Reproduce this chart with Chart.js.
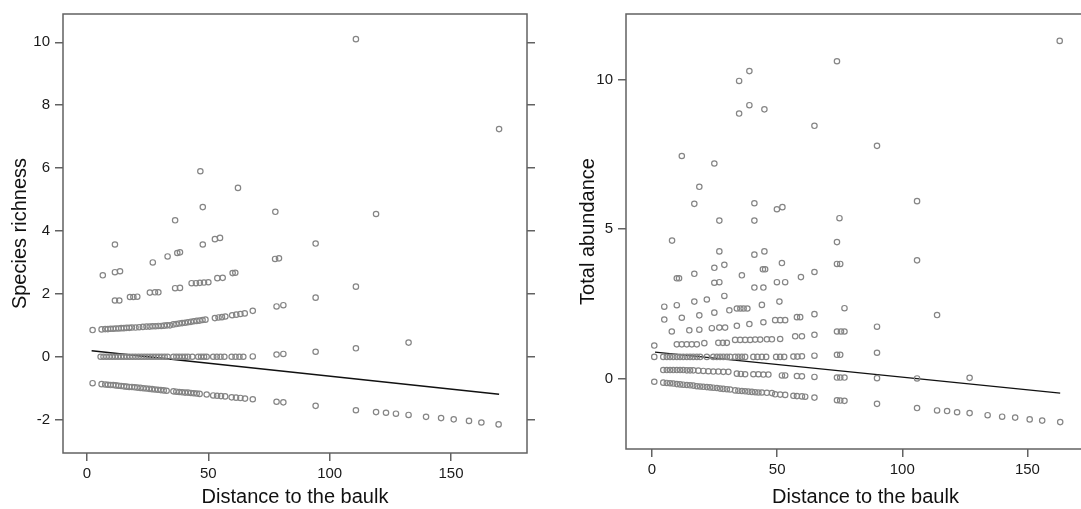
<!DOCTYPE html>
<html>
<head>
<meta charset="utf-8">
<script src="https://cdn.jsdelivr.net/npm/chart.js@4.4.1/dist/chart.umd.min.js"></script>
<style>
  html, body { margin: 0; padding: 0; background: #fff; }
  body { width: 1081px; height: 509px; overflow: hidden; position: relative; }
  canvas { position: absolute; top: 0; }
  #leftChart { left: 0; }
  #rightChart { left: 560px; }
</style>
</head>
<body>
<canvas id="leftChart" width="560" height="509"></canvas>
<canvas id="rightChart" width="560" height="509"></canvas>
<script>
// Tick labels
const distanceTicks = [0, 50, 100, 150];
const richnessTicks = [-2, 0, 2, 4, 6, 8, 10];
const abundanceTicks = [0, 5, 10];

// Species richness: [distance, value]
const richnessLow = [[2.3,-0.84],[6,-0.87],[7.5,-0.88],[8.6,-0.89],[9.7,-0.9],[10.8,-0.9],[11.9,-0.91],[13,-0.92],[14.1,-0.93],[15.2,-0.94],[16.3,-0.95],[17.4,-0.96],[18.5,-0.96],[19.6,-0.97],[20.7,-0.98],[22,-0.99],[23.2,-1],[24.4,-1.01],[25.6,-1.02],[26.8,-1.03],[28,-1.04],[29.2,-1.05],[30.4,-1.06],[31.6,-1.07],[32.8,-1.08],[35.6,-1.1],[36.8,-1.11],[38,-1.12],[39.2,-1.13],[40.4,-1.14],[41.6,-1.14],[42.8,-1.15],[44,-1.16],[45.2,-1.17],[46.4,-1.18],[49.3,-1.2],[52,-1.23],[53.6,-1.24],[55.2,-1.25],[56.9,-1.26],[59.6,-1.29],[61.4,-1.3],[63.2,-1.31],[65.1,-1.33],[68.3,-1.35],[78.1,-1.43],[80.9,-1.45],[94.2,-1.56],[110.8,-1.7],[119.1,-1.76],[123.2,-1.78],[127.3,-1.81],[132.5,-1.85],[139.7,-1.91],[145.9,-1.95],[151.1,-1.99],[157.4,-2.04],[162.5,-2.09],[169.6,-2.15]];
const richnessZero = [[5.6,0],[6.8,0],[8,0],[9.2,0],[10.4,0],[11.6,0],[12.8,0],[14,0],[15.2,0],[16.4,0],[17.6,0],[18.8,0],[20,0],[21.2,0],[22.4,0],[23.6,0],[24.8,0],[26,0],[27.2,0],[28.4,0],[29.6,0],[30.8,0],[32,0],[33.2,0],[35.6,0],[36.8,0],[38,0],[39.2,0],[40.4,0],[41.6,0],[43.4,0],[45.8,0],[47,0],[48.2,0],[49.3,0],[52,0],[53.5,0],[55,0],[56.6,0],[59.6,0],[61.2,0],[62.8,0],[64.4,0],[68.3,0.01],[78.1,0.07],[80.9,0.09],[94.2,0.16],[110.8,0.27],[132.5,0.45]];
const richnessOne = [[2.3,0.85],[6,0.87],[7.5,0.88],[8.6,0.88],[9.7,0.89],[10.8,0.89],[11.9,0.9],[13,0.9],[14.1,0.91],[15.2,0.91],[16.3,0.92],[17.4,0.92],[18.5,0.93],[20,0.93],[21.5,0.94],[23,0.95],[24.5,0.96],[25.8,0.96],[27,0.97],[28.2,0.97],[29.4,0.98],[30.6,0.98],[31.8,0.99],[33,1],[34.2,1],[35.6,1.03],[36.8,1.04],[38,1.06],[39.2,1.07],[40.4,1.08],[41.6,1.1],[42.8,1.11],[44,1.13],[45.2,1.14],[46.4,1.15],[47.6,1.17],[48.8,1.18],[52.7,1.23],[54.2,1.25],[55.6,1.26],[57,1.28],[59.8,1.32],[61.5,1.34],[63.2,1.36],[65,1.38],[68.3,1.46],[78.1,1.6],[80.9,1.64],[94.2,1.88],[110.8,2.23]];
const richnessTwo = [[11.5,1.79],[13.3,1.79],[17.7,1.9],[19.1,1.9],[20.7,1.91],[25.9,2.04],[28,2.05],[29.4,2.05],[36.3,2.18],[38.3,2.19],[43.1,2.34],[44.9,2.34],[46.5,2.35],[48.2,2.36],[50,2.37],[53.7,2.5],[55.9,2.51],[60,2.66],[61.1,2.67]];
const richnessHigh = [[6.5,2.59],[11.5,2.69],[13.6,2.72],[27.1,3],[33.2,3.19],[37.2,3.3],[38.3,3.32],[47.7,3.57],[52.7,3.74],[54.8,3.78],[77.5,3.11],[79.1,3.13],[94.2,3.6],[11.5,3.57],[36.3,4.34],[46.7,5.9],[47.7,4.76],[62.2,5.37],[77.6,4.61],[119.1,4.54],[110.8,10.1],[169.8,7.24]];
const richnessFitX = [1.9, 169.8];
const richnessFitY = [0.19, -1.19];

// Total abundance: [distance, value]
const abundanceLow = [[0.9,-0.11],[4.5,-0.14],[5.9,-0.15],[7.2,-0.16],[8.5,-0.17],[9.9,-0.19],[11.2,-0.2],[12.5,-0.21],[13.9,-0.22],[15.2,-0.23],[16.5,-0.24],[17.9,-0.26],[19.2,-0.27],[20.5,-0.28],[21.9,-0.29],[23.2,-0.3],[24.5,-0.31],[25.9,-0.32],[27.2,-0.34],[28.5,-0.35],[29.9,-0.36],[31.2,-0.37],[33.2,-0.4],[34.5,-0.41],[35.9,-0.42],[37.2,-0.43],[38.5,-0.44],[39.9,-0.45],[41.2,-0.46],[42.5,-0.47],[43.9,-0.47],[45.9,-0.48],[47.9,-0.49],[49.2,-0.53],[51.2,-0.54],[53.2,-0.55],[56.5,-0.58],[57.9,-0.59],[59.9,-0.6],[61.2,-0.61],[64.9,-0.64],[73.9,-0.73],[75.2,-0.74],[76.9,-0.75],[89.9,-0.85],[105.9,-0.99],[113.9,-1.07],[117.9,-1.09],[121.9,-1.13],[126.9,-1.16],[134.1,-1.23],[139.9,-1.28],[145.1,-1.31],[150.9,-1.37],[155.9,-1.41],[163.1,-1.46]];
const abundanceMidLow = [[4.5,0.28],[5.9,0.28],[7.2,0.28],[8.5,0.28],[9.9,0.28],[11.2,0.28],[12.5,0.28],[13.9,0.27],[15.2,0.27],[16.5,0.27],[18.5,0.26],[20.5,0.25],[22.5,0.24],[24.5,0.23],[26.5,0.23],[28.5,0.22],[30.5,0.22],[33.9,0.16],[35.5,0.15],[37.2,0.14],[40.5,0.14],[42.5,0.14],[44.5,0.13],[46.5,0.13],[51.9,0.1],[53.2,0.1],[57.9,0.08],[59.9,0.07],[64.9,0.05],[73.9,0.03],[75.2,0.03],[76.9,0.03],[89.9,0.01],[105.9,0],[126.9,0.02]];
const abundanceMid = [[0.9,0.72],[4.5,0.72],[5.9,0.72],[7.2,0.72],[8.5,0.72],[9.9,0.72],[11.2,0.72],[12.5,0.72],[13.9,0.72],[15.2,0.72],[16.5,0.72],[17.9,0.72],[19.2,0.72],[21.9,0.72],[24.5,0.72],[25.9,0.72],[27.2,0.72],[28.5,0.72],[29.9,0.72],[31.2,0.72],[33.2,0.72],[34.5,0.72],[35.9,0.72],[37.2,0.72],[40.5,0.72],[42.1,0.72],[43.9,0.72],[45.6,0.72],[49.6,0.72],[51.2,0.72],[52.8,0.72],[56.5,0.73],[58.1,0.73],[59.9,0.74],[64.9,0.76],[73.9,0.79],[75.2,0.79],[89.9,0.86]];
const abundanceMidHigh = [[0.9,1.1],[9.9,1.14],[11.9,1.14],[13.9,1.14],[15.9,1.14],[17.9,1.14],[20.9,1.18],[26.5,1.19],[28.3,1.19],[29.9,1.19],[33.2,1.29],[35.2,1.29],[37.2,1.29],[39.2,1.29],[41.2,1.3],[43.2,1.3],[45.9,1.31],[47.9,1.31],[51.2,1.32],[57.2,1.41],[59.9,1.41],[64.9,1.46],[73.9,1.57],[75.5,1.57],[76.9,1.57],[89.9,1.73],
  [7.9,1.57],[14.9,1.61],[18.9,1.63],[23.9,1.68],[26.9,1.7],[29.2,1.7],[33.9,1.76],[38.9,1.82],[44.5,1.88],[49.2,1.95],[51.2,1.95],[53.2,1.95],[57.9,2.05],[59.2,2.05],[64.9,2.15],[76.9,2.35],[113.9,2.12]];
const abundanceHigh = [[4.9,1.97],[11.9,2.03],[18.9,2.11],[24.9,2.2],[30.9,2.28],[33.9,2.34],[35.3,2.34],[36.6,2.34],[38.1,2.34],[43.9,2.46],[50.9,2.57],
  [4.9,2.4],[9.9,2.45],[16.9,2.57],[21.9,2.64],[28.9,2.76],
  [24.9,3.2],[26.9,3.22],[40.9,3.04],[44.5,3.04],[49.9,3.22],[53.2,3.22],[9.9,3.35],[10.8,3.35],[16.9,3.5],[24.9,3.7],[28.9,3.8],[35.9,3.45],[44.3,3.65],[45.2,3.65],[51.9,3.86],[59.5,3.39],[64.9,3.56],[73.9,3.83],[75.2,3.83],[105.9,3.95],
  [8,4.61],[26.9,4.25],[40.9,4.14],[44.9,4.25],[73.9,4.56]];
const abundanceTop = [[26.9,5.28],[40.9,5.28],[16.9,5.84],[40.9,5.86],[49.9,5.66],[52.1,5.73],[74.9,5.36],[105.9,5.93],[18.9,6.41],[24.9,7.19],[11.9,7.44],[89.9,7.78],[64.9,8.45],[34.8,8.86],[44.9,9],[38.9,9.14],[34.8,9.95],[38.9,10.28],[73.9,10.61],[162.9,11.29]];
const abundanceFitX = [1.2, 163.1];
const abundanceFitY = [0.88, -0.49];

const FONT = "'Liberation Sans', Arial, sans-serif";

function toPoints(...groups) {
    return groups.flat().map(p => ({ x: p[0], y: p[1] }));
}

function fitPoints(xs, ys) {
    return xs.map((x, i) => ({ x: x, y: ys[i] }));
}

// Рамка вокруг области графика
const framePlugin = {
    id: 'frame',
    afterDatasetsDraw(chart) {
        const { ctx, chartArea: a } = chart;
        ctx.save();
        ctx.strokeStyle = '#626262';
        ctx.lineWidth = 1.5;
        ctx.strokeRect(a.left, a.top, a.right - a.left, a.bottom - a.top);
        ctx.restore();
    }
};

function axisGrid() {
    return {
        drawOnChartArea: false,
        drawTicks: true,
        tickLength: 8,
        color: '#626262',
        lineWidth: 1.5
    };
}

function makePanel(canvasId, cfg) {
    const setTicks = list => scale => { scale.ticks = list.map(v => ({ value: v })); };
    const scales = {
        x: {
            type: 'linear',
            min: cfg.xMin,
            max: cfg.xMax,
            afterBuildTicks: setTicks(distanceTicks),
            afterFit: s => { s.height = cfg.xHeight; },
            border: { display: false },
            grid: axisGrid(),
            ticks: { autoSkip: false, maxRotation: 0, padding: 4, color: '#1a1a1a', font: { family: FONT, size: 15 } },
            title: { display: true, text: 'Distance to the baulk', color: '#111', font: { family: FONT, size: 20 }, padding: { top: 0, bottom: 0 } }
        },
        y: {
            type: 'linear',
            min: cfg.yMin,
            max: cfg.yMax,
            afterBuildTicks: setTicks(cfg.yTicks),
            afterFit: s => { s.width = cfg.yWidth; },
            border: { display: false },
            grid: axisGrid(),
            ticks: { autoSkip: false, padding: 5, color: '#1a1a1a', font: { family: FONT, size: 15 } },
            title: { display: true, text: cfg.yTitle, color: '#111', font: { family: FONT, size: 20 }, padding: { top: cfg.titlePad, bottom: 0 } }
        }
    };
    if (cfg.mirrorY) {
        scales.y2 = {
            type: 'linear',
            position: 'right',
            min: cfg.yMin,
            max: cfg.yMax,
            afterBuildTicks: setTicks(cfg.yTicks),
            afterFit: s => { s.width = 10; },
            border: { display: false },
            grid: axisGrid(),
            ticks: { display: false }
        };
    }

    return new Chart(document.getElementById(canvasId), {
        type: 'scatter',
        data: {
            datasets: [
                {
                    data: cfg.points,
                    pointRadius: 2.7,
                    pointHoverRadius: 2.7,
                    borderWidth: 1.2,
                    borderColor: '#858585',
                    backgroundColor: 'rgba(255,255,255,0)'
                },
                {
                    data: cfg.fit,
                    showLine: true,
                    pointRadius: 0,
                    borderColor: '#111',
                    borderWidth: 1.4,
                    fill: false
                }
            ]
        },
        options: {
            responsive: false,
            animation: false,
            layout: { padding: { top: 11, right: cfg.padRight, bottom: 0, left: 0 } },
            plugins: { legend: { display: false }, tooltip: { enabled: false } },
            scales: scales
        },
        plugins: [framePlugin]
    });
}

makePanel('leftChart', {
    points: toPoints(richnessLow, richnessZero, richnessOne, richnessTwo, richnessHigh),
    fit: fitPoints(richnessFitX, richnessFitY),
    xMin: -9.9, xMax: 181.3,
    yMin: -3.06, yMax: 10.9,
    yTicks: richnessTicks,
    yTitle: 'Species richness',
    yWidth: 63, xHeight: 56, padRight: 23, titlePad: 8,
    mirrorY: true
});

makePanel('rightChart', {
    points: toPoints(abundanceLow, abundanceMidLow, abundanceMid, abundanceMidHigh, abundanceHigh, abundanceTop),
    fit: fitPoints(abundanceFitX, abundanceFitY),
    xMin: -10.4, xMax: 181,
    yMin: -2.36, yMax: 12.19,
    yTicks: abundanceTicks,
    yTitle: 'Total abundance',
    yWidth: 66, xHeight: 60, padRight: 15, titlePad: 16,
    mirrorY: false
});
</script>
</body>
</html>
